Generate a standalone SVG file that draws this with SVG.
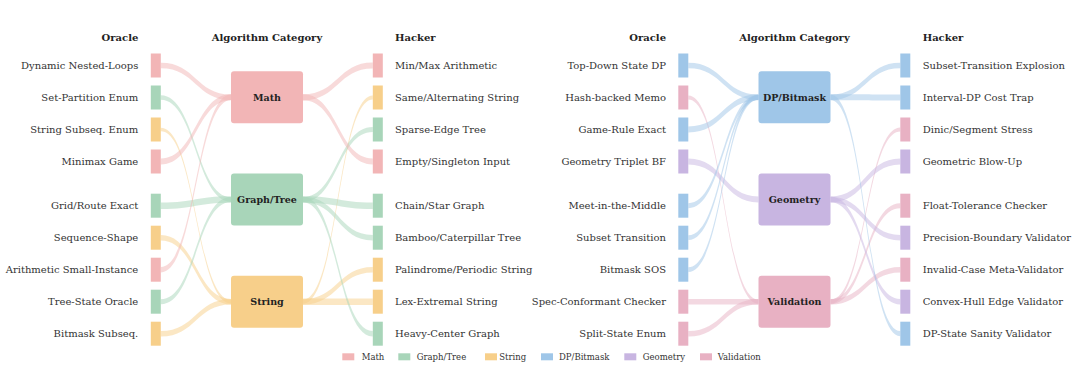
<svg xmlns="http://www.w3.org/2000/svg" width="1080" height="373" viewBox="0 0 1080 373">
<style>
text{font-family:"DejaVu Serif","Liberation Serif",serif}
.hdr{font-size:10px;font-weight:bold;fill:#222}
.lbl{font-size:10px;fill:#333}
.end{text-anchor:end}
.box{font-size:9.5px;font-weight:bold;fill:#222}
.leg{font-size:8.5px;fill:#333}
.math{fill:#f2b5b6}
.graph{fill:#a8d5b9}
.str{fill:#f7cf8a}
.dp{fill:#9fc6e8}
.geo{fill:#c8b5e1}
.val{fill:#e8b1c3}
.flows path{fill-opacity:.5}
</style>
<rect width="1080" height="373" fill="#fff"/>

<g id="connectors" class="flows">
<!-- left panel: oracle -> category -->
<path class="math" d="M160.8,62.7 C195.9,62.7 195.9,94.5 231,94.5 L231,100.1 C195.9,100.1 195.9,68.3 160.8,68.3Z"/>
<path class="graph" d="M160.8,95.3 C195.9,95.3 195.9,197.3 231,197.3 L231,201.7 C195.9,201.7 195.9,99.7 160.8,99.7Z"/>
<path class="str" d="M160.8,127.7 C195.9,127.7 195.9,299.9 231,299.9 L231,303.5 C195.9,303.5 195.9,131.3 160.8,131.3Z"/>
<path class="math" d="M160.8,158.5 C195.9,158.5 195.9,94.3 231,94.3 L231,100.3 C195.9,100.3 195.9,164.5 160.8,164.5Z"/>
<path class="graph" d="M160.8,202.4 C195.9,202.4 195.9,196.2 231,196.2 L231,202.8 C195.9,202.8 195.9,209.0 160.8,209.0Z"/>
<path class="str" d="M160.8,234.9 C195.9,234.9 195.9,298.9 231,298.9 L231,304.5 C195.9,304.5 195.9,240.5 160.8,240.5Z"/>
<path class="math" d="M160.8,267.0 C195.9,267.0 195.9,94.6 231,94.6 L231,100.0 C195.9,100.0 195.9,272.4 160.8,272.4Z"/>
<path class="graph" d="M160.8,299.2 C195.9,299.2 195.9,197.0 231,197.0 L231,202.0 C195.9,202.0 195.9,304.2 160.8,304.2Z"/>
<path class="str" d="M160.8,330.9 C195.9,330.9 195.9,298.9 231,298.9 L231,304.5 C195.9,304.5 195.9,336.5 160.8,336.5Z"/>
<!-- left panel: category -> hacker -->
<path class="math" d="M303,94.2 C337.9,94.2 337.9,62.4 372.8,62.4 L372.8,68.6 C337.9,68.6 337.9,100.4 303,100.4Z"/>
<path class="str" d="M303,299.6 C337.9,299.6 337.9,95.4 372.8,95.4 L372.8,99.6 C337.9,99.6 337.9,303.8 303,303.8Z"/>
<path class="graph" d="M303,196.9 C337.9,196.9 337.9,126.9 372.8,126.9 L372.8,132.1 C337.9,132.1 337.9,202.1 303,202.1Z"/>
<path class="math" d="M303,94.3 C337.9,94.3 337.9,158.5 372.8,158.5 L372.8,164.5 C337.9,164.5 337.9,100.3 303,100.3Z"/>
<path class="graph" d="M303,196.2 C337.9,196.2 337.9,202.4 372.8,202.4 L372.8,209.0 C337.9,209.0 337.9,202.8 303,202.8Z"/>
<path class="graph" d="M303,196.7 C337.9,196.7 337.9,234.9 372.8,234.9 L372.8,240.5 C337.9,240.5 337.9,202.3 303,202.3Z"/>
<path class="str" d="M303,298.9 C337.9,298.9 337.9,266.9 372.8,266.9 L372.8,272.5 C337.9,272.5 337.9,304.5 303,304.5Z"/>
<path class="str" d="M303,298.4 C337.9,298.4 337.9,298.4 372.8,298.4 L372.8,305.0 C337.9,305.0 337.9,305.0 303,305.0Z"/>
<path class="graph" d="M303,196.8 C337.9,196.8 337.9,331.0 372.8,331.0 L372.8,336.4 C337.9,336.4 337.9,202.2 303,202.2Z"/>
<!-- right panel: oracle -> category -->
<path class="dp" d="M688.3,62.7 C723.4,62.7 723.4,94.5 758.5,94.5 L758.5,100.1 C723.4,100.1 723.4,68.3 688.3,68.3Z"/>
<path class="val" d="M688.3,95.4 C723.4,95.4 723.4,299.6 758.5,299.6 L758.5,303.8 C723.4,303.8 723.4,99.6 688.3,99.6Z"/>
<path class="dp" d="M688.3,126.5 C723.4,126.5 723.4,94.3 758.5,94.3 L758.5,100.3 C723.4,100.3 723.4,132.5 688.3,132.5Z"/>
<path class="geo" d="M688.3,158.5 C723.4,158.5 723.4,196.5 758.5,196.5 L758.5,202.5 C723.4,202.5 723.4,164.5 688.3,164.5Z"/>
<path class="dp" d="M688.3,203.2 C723.4,203.2 723.4,94.8 758.5,94.8 L758.5,99.8 C723.4,99.8 723.4,208.2 688.3,208.2Z"/>
<path class="dp" d="M688.3,235.3 C723.4,235.3 723.4,94.9 758.5,94.9 L758.5,99.7 C723.4,99.7 723.4,240.1 688.3,240.1Z"/>
<path class="dp" d="M688.3,267.3 C723.4,267.3 723.4,94.9 758.5,94.9 L758.5,99.7 C723.4,99.7 723.4,272.1 688.3,272.1Z"/>
<path class="val" d="M688.3,298.9 C723.4,298.9 723.4,298.9 758.5,298.9 L758.5,304.5 C723.4,304.5 723.4,304.5 688.3,304.5Z"/>
<path class="val" d="M688.3,330.9 C723.4,330.9 723.4,298.9 758.5,298.9 L758.5,304.5 C723.4,304.5 723.4,336.5 688.3,336.5Z"/>
<!-- right panel: category -> hacker -->
<path class="dp" d="M830.5,94.5 C865.4,94.5 865.4,62.7 900.3,62.7 L900.3,68.3 C865.4,68.3 865.4,100.1 830.5,100.1Z"/>
<path class="dp" d="M830.5,94.3 C865.4,94.3 865.4,94.5 900.3,94.5 L900.3,100.5 C865.4,100.5 865.4,100.3 830.5,100.3Z"/>
<path class="val" d="M830.5,299.6 C865.4,299.6 865.4,127.4 900.3,127.4 L900.3,131.6 C865.4,131.6 865.4,303.8 830.5,303.8Z"/>
<path class="geo" d="M830.5,196.5 C865.4,196.5 865.4,158.5 900.3,158.5 L900.3,164.5 C865.4,164.5 865.4,202.5 830.5,202.5Z"/>
<path class="val" d="M830.5,299.2 C865.4,299.2 865.4,203.2 900.3,203.2 L900.3,208.2 C865.4,208.2 865.4,304.2 830.5,304.2Z"/>
<path class="geo" d="M830.5,196.7 C865.4,196.7 865.4,234.9 900.3,234.9 L900.3,240.5 C865.4,240.5 865.4,202.3 830.5,202.3Z"/>
<path class="val" d="M830.5,298.9 C865.4,298.9 865.4,266.9 900.3,266.9 L900.3,272.5 C865.4,272.5 865.4,304.5 830.5,304.5Z"/>
<path class="geo" d="M830.5,196.7 C865.4,196.7 865.4,298.9 900.3,298.9 L900.3,304.5 C865.4,304.5 865.4,202.3 830.5,202.3Z"/>
<path class="dp" d="M830.5,94.7 C865.4,94.7 865.4,331.1 900.3,331.1 L900.3,336.3 C865.4,336.3 865.4,99.9 830.5,99.9Z"/>
</g>

<!-- headers -->
<g id="headers">
<text class="hdr end" x="138.3" y="41">Oracle</text>
<text class="hdr" x="267" y="41" text-anchor="middle">Algorithm Category</text>
<text class="hdr" x="395" y="41">Hacker</text>
<text class="hdr end" x="666" y="41">Oracle</text>
<text class="hdr" x="794.5" y="41" text-anchor="middle">Algorithm Category</text>
<text class="hdr" x="922.7" y="41">Hacker</text>
</g>

<!-- category nodes -->
<g id="cat-math"><rect class="math" x="231" y="71.3" width="72" height="52" rx="3"/><text class="box" x="267" y="100.6" text-anchor="middle">Math</text></g>
<g id="cat-graph"><rect class="graph" x="231" y="173.5" width="72" height="52" rx="3"/><text class="box" x="267" y="202.8" text-anchor="middle">Graph/Tree</text></g>
<g id="cat-string"><rect class="str" x="231" y="275.7" width="72" height="52" rx="3"/><text class="box" x="267" y="305" text-anchor="middle">String</text></g>
<g id="cat-dp"><rect class="dp" x="758.5" y="71.3" width="72" height="52" rx="3"/><text class="box" x="794.5" y="100.6" text-anchor="middle">DP/Bitmask</text></g>
<g id="cat-geo"><rect class="geo" x="758.5" y="173.5" width="72" height="52" rx="3"/><text class="box" x="794.5" y="202.8" text-anchor="middle">Geometry</text></g>
<g id="cat-val"><rect class="val" x="758.5" y="275.7" width="72" height="52" rx="3"/><text class="box" x="794.5" y="305" text-anchor="middle">Validation</text></g>

<!-- left panel oracle nodes -->
<g id="lo1"><rect class="math" x="150.8" y="53.5" width="10" height="24"/><text class="lbl end" x="138.3" y="69">Dynamic Nested-Loops</text></g>
<g id="lo2"><rect class="graph" x="150.8" y="85.5" width="10" height="24"/><text class="lbl end" x="138.3" y="101">Set-Partition Enum</text></g>
<g id="lo3"><rect class="str" x="150.8" y="117.5" width="10" height="24"/><text class="lbl end" x="138.3" y="133">String Subseq. Enum</text></g>
<g id="lo4"><rect class="math" x="150.8" y="149.5" width="10" height="24"/><text class="lbl end" x="138.3" y="165">Minimax Game</text></g>
<g id="lo5"><rect class="graph" x="150.8" y="193.7" width="10" height="24"/><text class="lbl end" x="138.3" y="209.2">Grid/Route Exact</text></g>
<g id="lo6"><rect class="str" x="150.8" y="225.7" width="10" height="24"/><text class="lbl end" x="138.3" y="241.2">Sequence-Shape</text></g>
<g id="lo7"><rect class="math" x="150.8" y="257.7" width="10" height="24"/><text class="lbl end" x="138.3" y="273.2">Arithmetic Small-Instance</text></g>
<g id="lo8"><rect class="graph" x="150.8" y="289.7" width="10" height="24"/><text class="lbl end" x="138.3" y="305.2">Tree-State Oracle</text></g>
<g id="lo9"><rect class="str" x="150.8" y="321.7" width="10" height="24"/><text class="lbl end" x="138.3" y="337.2">Bitmask Subseq.</text></g>

<!-- left panel hacker nodes -->
<g id="lh1"><rect class="math" x="372.8" y="53.5" width="10" height="24"/><text class="lbl" x="395" y="69">Min/Max Arithmetic</text></g>
<g id="lh2"><rect class="str" x="372.8" y="85.5" width="10" height="24"/><text class="lbl" x="395" y="101">Same/Alternating String</text></g>
<g id="lh3"><rect class="graph" x="372.8" y="117.5" width="10" height="24"/><text class="lbl" x="395" y="133">Sparse-Edge Tree</text></g>
<g id="lh4"><rect class="math" x="372.8" y="149.5" width="10" height="24"/><text class="lbl" x="395" y="165">Empty/Singleton Input</text></g>
<g id="lh5"><rect class="graph" x="372.8" y="193.7" width="10" height="24"/><text class="lbl" x="395" y="209.2">Chain/Star Graph</text></g>
<g id="lh6"><rect class="graph" x="372.8" y="225.7" width="10" height="24"/><text class="lbl" x="395" y="241.2">Bamboo/Caterpillar Tree</text></g>
<g id="lh7"><rect class="str" x="372.8" y="257.7" width="10" height="24"/><text class="lbl" x="395" y="273.2">Palindrome/Periodic String</text></g>
<g id="lh8"><rect class="str" x="372.8" y="289.7" width="10" height="24"/><text class="lbl" x="395" y="305.2">Lex-Extremal String</text></g>
<g id="lh9"><rect class="graph" x="372.8" y="321.7" width="10" height="24"/><text class="lbl" x="395" y="337.2">Heavy-Center Graph</text></g>

<!-- right panel oracle nodes -->
<g id="ro1"><rect class="dp" x="678.3" y="53.5" width="10" height="24"/><text class="lbl end" x="666" y="69">Top-Down State DP</text></g>
<g id="ro2"><rect class="val" x="678.3" y="85.5" width="10" height="24"/><text class="lbl end" x="666" y="101">Hash-backed Memo</text></g>
<g id="ro3"><rect class="dp" x="678.3" y="117.5" width="10" height="24"/><text class="lbl end" x="666" y="133">Game-Rule Exact</text></g>
<g id="ro4"><rect class="geo" x="678.3" y="149.5" width="10" height="24"/><text class="lbl end" x="666" y="165">Geometry Triplet BF</text></g>
<g id="ro5"><rect class="dp" x="678.3" y="193.7" width="10" height="24"/><text class="lbl end" x="666" y="209.2">Meet-in-the-Middle</text></g>
<g id="ro6"><rect class="dp" x="678.3" y="225.7" width="10" height="24"/><text class="lbl end" x="666" y="241.2">Subset Transition</text></g>
<g id="ro7"><rect class="dp" x="678.3" y="257.7" width="10" height="24"/><text class="lbl end" x="666" y="273.2">Bitmask SOS</text></g>
<g id="ro8"><rect class="val" x="678.3" y="289.7" width="10" height="24"/><text class="lbl end" x="666" y="305.2">Spec-Conformant Checker</text></g>
<g id="ro9"><rect class="val" x="678.3" y="321.7" width="10" height="24"/><text class="lbl end" x="666" y="337.2">Split-State Enum</text></g>

<!-- right panel hacker nodes -->
<g id="rh1"><rect class="dp" x="900.3" y="53.5" width="10" height="24"/><text class="lbl" x="922.7" y="69">Subset-Transition Explosion</text></g>
<g id="rh2"><rect class="dp" x="900.3" y="85.5" width="10" height="24"/><text class="lbl" x="922.7" y="101">Interval-DP Cost Trap</text></g>
<g id="rh3"><rect class="val" x="900.3" y="117.5" width="10" height="24"/><text class="lbl" x="922.7" y="133">Dinic/Segment Stress</text></g>
<g id="rh4"><rect class="geo" x="900.3" y="149.5" width="10" height="24"/><text class="lbl" x="922.7" y="165">Geometric Blow-Up</text></g>
<g id="rh5"><rect class="val" x="900.3" y="193.7" width="10" height="24"/><text class="lbl" x="922.7" y="209.2">Float-Tolerance Checker</text></g>
<g id="rh6"><rect class="geo" x="900.3" y="225.7" width="10" height="24"/><text class="lbl" x="922.7" y="241.2">Precision-Boundary Validator</text></g>
<g id="rh7"><rect class="val" x="900.3" y="257.7" width="10" height="24"/><text class="lbl" x="922.7" y="273.2">Invalid-Case Meta-Validator</text></g>
<g id="rh8"><rect class="geo" x="900.3" y="289.7" width="10" height="24"/><text class="lbl" x="922.7" y="305.2">Convex-Hull Edge Validator</text></g>
<g id="rh9"><rect class="dp" x="900.3" y="321.7" width="10" height="24"/><text class="lbl" x="922.7" y="337.2">DP-State Sanity Validator</text></g>

<!-- legend -->
<g id="legend">
<rect class="math" x="342.3" y="353.3" width="12" height="7"/><text class="leg" x="361.7" y="359.7">Math</text>
<rect class="graph" x="398.3" y="353.3" width="12" height="7"/><text class="leg" x="416.7" y="359.7">Graph/Tree</text>
<rect class="str" x="485" y="353.3" width="12" height="7"/><text class="leg" x="499.3" y="359.7">String</text>
<rect class="dp" x="541" y="353.3" width="12" height="7"/><text class="leg" x="559" y="359.7">DP/Bitmask</text>
<rect class="geo" x="624.3" y="353.3" width="12" height="7"/><text class="leg" x="642.7" y="359.7">Geometry</text>
<rect class="val" x="700" y="353.3" width="12" height="7"/><text class="leg" x="717.7" y="359.7">Validation</text>
</g>
</svg>
